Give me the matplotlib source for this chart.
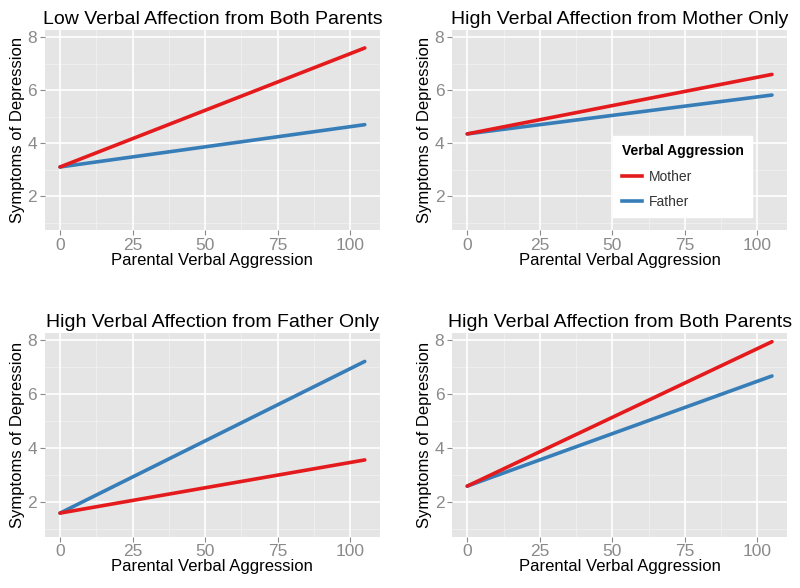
import numpy as np
import matplotlib
import matplotlib.pyplot as plt
from matplotlib.lines import Line2D

matplotlib.use("Agg")

plt.rcParams["font.family"] = ["Liberation Sans", "DejaVu Sans"]

# model predictions at the two ends of the aggression range
x_ends = [0, 105]
titles = [
    "Low Verbal Affection from Both Parents",
    "High Verbal Affection from Mother Only",
    "High Verbal Affection from Father Only",
    "High Verbal Affection from Both Parents",
]
mother = [[3.1, 7.6], [4.35, 6.6], [1.6, 3.57], [2.6, 7.95]]
father = [[3.1, 4.7], [4.35, 5.82], [1.6, 7.22], [2.6, 6.68]]
series_names = ["Mother", "Father"]
x_ticks = [0, 25, 50, 75, 100]
y_ticks = [2, 4, 6, 8]

RED = "#E41A1C"
BLUE = "#377EB8"
BG = "#E5E5E5"
TICK_GREY = "#8A8A8A"

fig = plt.figure(figsize=(8, 5.88), dpi=100)

# [left, bottom, width, height] in figure fractions
boxes = [
    [0.056, 0.609, 0.419, 0.340],
    [0.565, 0.609, 0.419, 0.340],
    [0.056, 0.087, 0.419, 0.347],
    [0.565, 0.087, 0.419, 0.347],
]

for i, box in enumerate(boxes):
    ax = fig.add_axes(box)
    ax.set_facecolor(BG)
    for s in ax.spines.values():
        s.set_visible(False)

    # minor grid
    for xm in [12.5, 37.5, 62.5, 87.5]:
        ax.axvline(xm, color="#F0F0F0", lw=0.6, zorder=0)
    for ym in [1, 3, 5, 7]:
        ax.axhline(ym, color="#F0F0F0", lw=0.6, zorder=0)
    ax.set_xticks(x_ticks)
    ax.set_yticks(y_ticks)
    ax.grid(True, color="white", lw=1.2, zorder=0.5)
    ax.set_axisbelow(True)

    ax.plot(x_ends, father[i], color=BLUE, lw=2.6, solid_capstyle="round", zorder=2)
    ax.plot(x_ends, mother[i], color=RED, lw=2.6, solid_capstyle="round", zorder=3)

    ax.set_xlim(-5.25, 110.25)
    ax.set_ylim(0.72, 8.28)

    ax.tick_params(axis="both", colors=TICK_GREY, labelcolor=TICK_GREY,
                   labelsize=12.5, length=3.5, width=0.8, pad=2)
    ax.set_title(titles[i], fontsize=14, color="black", pad=4)
    ax.set_xlabel("Parental Verbal Aggression", fontsize=12, labelpad=0)
    ax.set_ylabel("Symptoms of Depression", fontsize=12, labelpad=2)

    if i == 1:
        handles = [Line2D([0], [0], color=RED, lw=2.6),
                   Line2D([0], [0], color=BLUE, lw=2.6)]
        leg = ax.legend(handles, series_names, title="Verbal Aggression",
                        loc="lower right", bbox_to_anchor=(0.915, 0.03),
                        frameon=True, fancybox=False, fontsize=10,
                        title_fontproperties={"weight": "bold", "size": 10},
                        handlelength=1.5, handletextpad=0.5, labelspacing=0.8,
                        borderpad=0.6)
        leg.get_frame().set_facecolor("white")
        leg.get_frame().set_edgecolor("white")
        leg.get_frame().set_alpha(1)
        leg._legend_box.align = "left"
        for t in leg.get_texts():
            t.set_color("#333333")

fig.savefig("out.png", dpi=100)
plt.close(fig)
